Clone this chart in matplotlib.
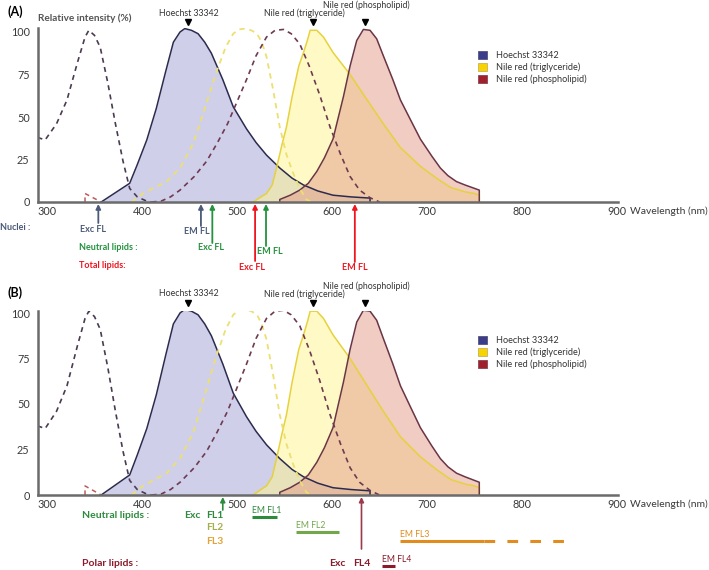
import matplotlib
matplotlib.use('Agg')
import matplotlib.pyplot as plt
from matplotlib.patches import Patch
from matplotlib.transforms import offset_copy

plt.rcParams['font.family'] = ['Lato', 'DejaVu Sans']

# ---------------- data ----------------
hoechst_exc_wl = [290, 298, 310, 321, 332, 340, 344, 350, 356, 364, 372, 380, 387, 395, 405, 410]
hoechst_exc_val = [38, 36.5, 46, 60, 82, 97, 101, 98, 91, 70, 46, 24, 8, 3, 0.5, 0]

hoechst_em_wl = [357, 387, 395, 405, 415, 425, 433, 440, 445, 452, 459, 466, 473, 485, 496, 510,
                 520, 531, 545, 558, 570, 585, 601, 620, 640, 640]
hoechst_em_val = [0, 11, 22, 36.5, 55, 77, 94, 100, 102, 101, 99, 94, 87.5, 72, 56, 43,
                  35, 27.6, 20, 14, 10, 6.5, 4, 3, 2.3, 0]

tg_exc_wl = [389, 401, 415, 426, 440, 454, 466, 478, 488, 496, 502, 508, 515, 521, 526, 531,
             538, 545, 552, 559, 566, 573, 578]
tg_exc_val = [0, 5, 9, 12, 20, 34.5, 55, 76, 91, 99, 101.5, 102, 101, 99, 94, 85.5,
              66, 44, 28, 17, 8, 1.5, 0]

pl_exc_wl = [410, 420, 430, 440, 455, 468, 479, 490, 500, 510, 520, 531, 540, 549, 557, 566,
             576, 587, 598, 609, 619, 629, 640, 650]
pl_exc_val = [0, 0.5, 3, 7, 15, 24, 34.5, 46, 59, 72, 86, 97, 101, 101.5, 99, 93,
              80, 63, 44, 28, 15, 7, 2.5, 0]

pl_uv_wl = [340, 340, 357]
pl_uv_val = [0, 5, 0]

tg_em_wl = [517, 525, 531, 537, 542, 547, 552, 558, 565, 570, 574, 577, 584, 591, 601, 619,
            637, 654, 672, 693, 710, 725, 740, 750, 755, 755]
tg_em_val = [0, 3, 5, 10, 21, 33, 44, 62, 80, 88, 95, 101, 101, 97, 88, 75,
             60, 46, 32, 21, 14, 8.5, 6, 5, 4, 0]

pl_em_wl = [545, 545, 556, 566, 575, 584, 592, 601, 612, 619, 626, 633, 640, 647, 654, 664,
            672, 682, 693, 705, 714, 722, 731, 740, 750, 755, 755]
pl_em_val = [0, 1.5, 4, 7, 11, 18, 26, 37, 62, 80, 95, 101.5, 101, 96, 86, 72,
             60, 49, 37, 27, 20, 15.5, 12, 10, 8, 7, 0]

peak_wl = [448, 580, 635]
peak_names = ['Hoechst 33342', 'Nile red (triglyceride)', 'Nile red (phospholipid)']
legend_names = ['Hoechst 33342', 'Nile red (triglyceride)', 'Nile red (phospholipid)']
xticks = [300, 400, 500, 600, 700, 800, 900]
yticks = [0, 25, 50, 75, 100]

# panel A arrows: (label, wavelength)
a_nuclei = [('Exc FL', 354), ('EM FL', 462)]
a_neutral = [('Exc FL', 474), ('EM FL', 530.5)]
a_total = [('Exc FL', 519), ('EM FL', 624)]

# panel B
b_exc_fl1 = 485
b_em_fl1 = (516, 542)
b_em_fl2 = (562, 607)
b_em_fl3_solid = (672, 760)
b_em_fl3_dash = (760, 853)
b_exc_fl4 = 631
b_em_fl4 = (653, 666)

# ---------------- figure ----------------
W, H = 709, 570
fig = plt.figure(figsize=(W / 100, H / 100), dpi=100)
fig.patch.set_facecolor('white')
XMIN, XMAX = 290.5, 901

C_H_FILL = '#a0a0d4'
C_H_EDGE = '#2b2b4f'
C_T_FILL = '#fff58c'
C_T_EDGE = '#e6d23c'
C_P_FILL = '#e39a88'
C_P_EDGE = '#6a3545'
TICKC = '#3a3a3a'


def fx(px):
    return px / W


def fyy(py):
    return 1 - py / H


def make_axes(top, bottom, ymax):
    ax = fig.add_axes([38 / W, 1 - bottom / H, (618 - 38) / W, (bottom - top) / H])
    ax.set_xlim(XMIN, XMAX)
    ax.set_ylim(0, ymax)
    for s in ['top', 'right']:
        ax.spines[s].set_visible(False)
    for s in ['left', 'bottom']:
        ax.spines[s].set_color('#6b6b6b')
        ax.spines[s].set_linewidth(1.8)
    ax.set_xticks(xticks)
    ax.set_yticks(yticks)
    ax.tick_params(length=0, labelsize=7.8, colors=TICKC)
    ax.tick_params(axis='x', pad=3)
    ax.tick_params(axis='y', pad=6)
    ax.set_facecolor('none')
    # spectra
    ax.fill_between(hoechst_em_wl, hoechst_em_val, color=C_H_FILL, alpha=0.5, lw=0)
    ax.fill_between(tg_em_wl, tg_em_val, color=C_T_FILL, alpha=0.5, lw=0)
    ax.fill_between(pl_em_wl, pl_em_val, color=C_P_FILL, alpha=0.5, lw=0)
    ax.plot(hoechst_em_wl, hoechst_em_val, color=C_H_EDGE, lw=1.1)
    ax.plot(tg_em_wl, tg_em_val, color=C_T_EDGE, lw=1.1)
    ax.plot(pl_em_wl, pl_em_val, color=C_P_EDGE, lw=1.1)
    ax.plot(hoechst_exc_wl, hoechst_exc_val, color='#4a3a52', lw=1.2, ls=(0, (3, 2.6)))
    ax.plot(tg_exc_wl, tg_exc_val, color='#ece070', lw=1.3, ls=(0, (3, 2.6)))
    ax.plot(pl_exc_wl, pl_exc_val, color='#6e3a50', lw=1.2, ls=(0, (3, 2.6)))
    ax.plot(pl_uv_wl, pl_uv_val, color='#c05a5a', lw=1.1, ls=(0, (3, 2.6)))
    return ax


def yf(py, top, bottom):
    return (bottom - py) / (bottom - top)


def decorate_top(ax, top, bottom, tri_py, lab_py, lab_py_pl, label_x):
    tr = ax.get_xaxis_transform()
    ax.plot(peak_wl, [yf(tri_py, top, bottom)] * 3, 'v', color='black', ms=4.5,
            transform=tr, clip_on=False)
    ys = [lab_py, lab_py, lab_py_pl]
    for name, x, py in zip(peak_names, label_x, ys):
        ax.text(x, yf(py, top, bottom), name, transform=tr, ha='center', va='center',
                fontsize=6.3, color='#333333')


def add_legend(top_px):
    handles = [Patch(facecolor='#3c3c8c', edgecolor='#555577', lw=0.6),
               Patch(facecolor='#f7d400', edgecolor='#c8b060', lw=0.6),
               Patch(facecolor='#a0202c', edgecolor='#884455', lw=0.6)]
    leg = fig.legend(handles, legend_names, loc='upper left',
                     bbox_to_anchor=(478 / W, 1 - top_px / H), bbox_transform=fig.transFigure,
                     frameon=False, fontsize=6.6, handlelength=1.0, handleheight=1.0,
                     handletextpad=1.0, labelspacing=0.25, borderpad=0, borderaxespad=0)
    for t in leg.get_texts():
        t.set_color('#333333')


# ---------- Panel A ----------
TA, BA = 28, 202
axA = make_axes(TA, BA, (BA - TA) / 1.7)
decorate_top(axA, TA, BA, 21.5, 13, 5, [449, 571, 636])
fig.text(fx(8), fyy(12), '(A)', fontsize=9, fontweight='bold', va='center', ha='left')
fig.text(fx(38), fyy(18), 'Relative intensity (%)', fontsize=7.2, fontweight='bold',
         color='#555555', va='center', ha='left')
fig.text(fx(630), fyy(211), 'Wavelength (nm)', fontsize=7.5, color=TICKC, va='center')
fig.text(fx(630), fyy(504), 'Wavelength (nm)', fontsize=7.5, color=TICKC, va='center')
add_legend(51)

trA = axA.get_xaxis_transform()


def arrowA(wl, tail_py, text_py, label, color, dx_px):
    axA.annotate('', xy=(wl, yf(204, TA, BA)), xytext=(wl, yf(tail_py, TA, BA)),
                 xycoords=trA, textcoords=trA,
                 arrowprops=dict(arrowstyle='-|>', color=color, lw=1.3, mutation_scale=7,
                                 shrinkA=0, shrinkB=0), annotation_clip=False)
    t = offset_copy(trA, fig=fig, x=dx_px * 0.72, y=0, units='points')
    axA.text(wl, yf(text_py, TA, BA), label, transform=t, ha='center', va='center',
             fontsize=6.5, fontweight='bold', color=color, clip_on=False)


C_NUC = '#4b5a78'
C_NEU = '#23923d'
C_TOT = '#f0141e'
fig.text(fx(0), fyy(227), 'Nuclei :', fontsize=6.5, fontweight='bold', color=C_NUC, va='center')
fig.text(fx(79), fyy(248), 'Neutral lipids :', fontsize=6.5, fontweight='bold', color=C_NEU, va='center')
fig.text(fx(79), fyy(266), 'Total lipids:', fontsize=6.5, fontweight='bold', color=C_TOT, va='center')
arrowA(a_nuclei[0][1], 223, 229, a_nuclei[0][0], C_NUC, -5)
arrowA(a_nuclei[1][1], 226, 232, a_nuclei[1][0], C_NUC, -4)
arrowA(a_neutral[0][1], 243, 248, a_neutral[0][0], C_NEU, -1)
arrowA(a_neutral[1][1], 246, 251, a_neutral[1][0], C_NEU, 4)
arrowA(a_total[0][1], 261, 268, a_total[0][0], C_TOT, -3)
arrowA(a_total[1][1], 262, 268, a_total[1][0], C_TOT, 0)

# ---------- Panel B ----------
TB, BB = 311, 495
axB = make_axes(TB, BB, (BB - TB) / 1.82)
decorate_top(axB, TB, BB, 303, 294, 286, [449, 571, 636])
fig.text(fx(8), fyy(293), '(B)', fontsize=9, fontweight='bold', va='center', ha='left')
add_legend(336)
trB = axB.get_xaxis_transform()

C_FL1 = '#2e8b3e'
C_FL2 = '#a3b04a'
C_FL3 = '#e0a438'
C_EM2 = '#72a84a'
C_EM3 = '#e08c1e'
C_POL = '#8b1a2b'

fig.text(fx(82), fyy(516), 'Neutral lipids :', fontsize=7.5, fontweight='bold', color=C_FL1, va='center')
fig.text(fx(82), fyy(563), 'Polar lipids :', fontsize=7.5, fontweight='bold', color=C_POL, va='center')

# Exc FL1 arrow and labels
axB.annotate('', xy=(b_exc_fl1, yf(497, TB, BB)), xytext=(b_exc_fl1, yf(510, TB, BB)),
             xycoords=trB, textcoords=trB,
             arrowprops=dict(arrowstyle='-|>', color=C_FL1, lw=1.2, mutation_scale=7,
                             shrinkA=0, shrinkB=0), annotation_clip=False)
tl = offset_copy(trB, fig=fig, x=1 * 0.72, y=0, units='points')
axB.text(b_exc_fl1, yf(516, TB, BB), 'FL1', transform=tl, ha='right', va='center',
         fontsize=7.5, fontweight='bold', color=C_FL1, clip_on=False)
tl2 = offset_copy(trB, fig=fig, x=-22 * 0.72, y=0, units='points')
axB.text(b_exc_fl1, yf(516, TB, BB), 'Exc', transform=tl2, ha='right', va='center',
         fontsize=7.5, fontweight='bold', color=C_FL1, clip_on=False)
axB.text(b_exc_fl1, yf(528, TB, BB), 'FL2', transform=tl, ha='right', va='center',
         fontsize=7.5, fontweight='bold', color=C_FL2, clip_on=False)
axB.text(b_exc_fl1, yf(541, TB, BB), 'FL3', transform=tl, ha='right', va='center',
         fontsize=7.5, fontweight='bold', color=C_FL3, clip_on=False)


def em_bar(span, py, text, color, dashed=False, with_text=True):
    axB.plot(span, [yf(py, TB, BB)] * 2, transform=trB, color=color, lw=2.2,
             clip_on=False, solid_capstyle='butt',
             ls=(0, (3.5, 4)) if dashed else '-')
    if with_text:
        axB.text(span[0], yf(py - 2, TB, BB), text, transform=trB, ha='left', va='bottom',
                 fontsize=6.2, color=color, clip_on=False)


em_bar(b_em_fl1, 517, 'EM FL1', C_FL1)
em_bar(b_em_fl2, 532, 'EM FL2', C_EM2)
em_bar(b_em_fl3_solid, 541, 'EM FL3', C_EM3)
em_bar(b_em_fl3_dash, 541, '', C_EM3, dashed=True, with_text=False)
em_bar(b_em_fl4, 566, 'EM FL4', C_POL)

# Exc FL4
axB.annotate('', xy=(b_exc_fl4, yf(497, TB, BB)), xytext=(b_exc_fl4, yf(549, TB, BB)),
             xycoords=trB, textcoords=trB,
             arrowprops=dict(arrowstyle='-|>', color='#9a3a4a', lw=1.2, mutation_scale=7,
                             shrinkA=0, shrinkB=0), annotation_clip=False)
t4 = offset_copy(trB, fig=fig, x=-16 * 0.72, y=0, units='points')
axB.text(b_exc_fl4, yf(563, TB, BB), 'Exc', transform=t4, ha='right', va='center',
         fontsize=7.5, fontweight='bold', color=C_POL, clip_on=False)
t5 = offset_copy(trB, fig=fig, x=-8 * 0.72, y=0, units='points')
axB.text(b_exc_fl4, yf(563, TB, BB), 'FL4', transform=t5, ha='left', va='center',
         fontsize=7.5, fontweight='bold', color=C_POL, clip_on=False)

fig.savefig('out.png', dpi=100, facecolor='white')
